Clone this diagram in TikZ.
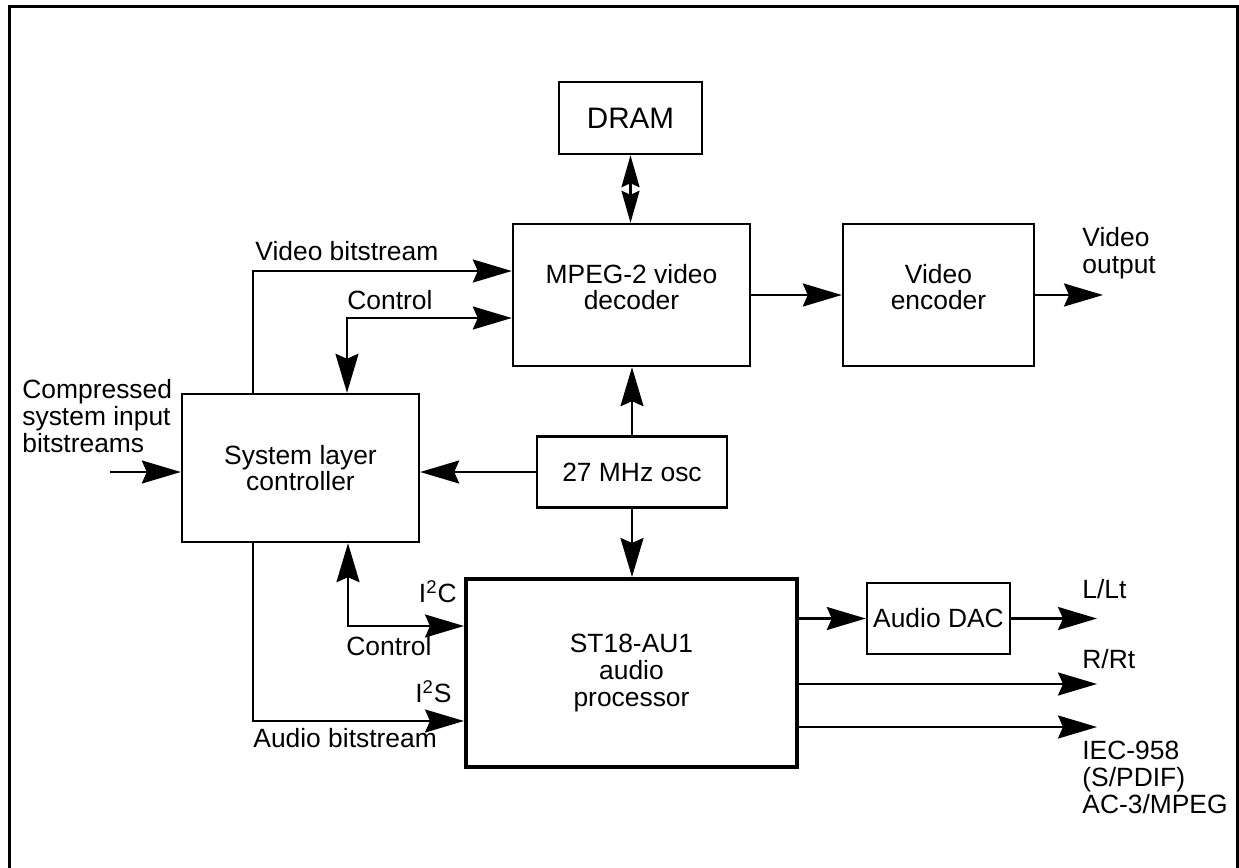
\documentclass[tikz,border=0pt]{standalone}
\usepackage{fontspec}
\setmainfont{Liberation Sans}
\usetikzlibrary{arrows.meta, positioning}
\newlength\pxu
\setlength\pxu{0.5pt}
\tikzset{
  blk/.style 2 args = {draw, line width=1.2pt, minimum width=#1*\pxu,
      minimum height=#2*\pxu, inner sep=0pt, align=center},
  lbl/.style = {inner sep=0pt, align=left},
  >={Stealth[length=19.5pt, width=11.5pt, inset=2.5pt]},
  sig/.style = {line width=1.2pt, ->},
  bisig/.style = {line width=1.2pt, <->},
  smallbisig/.style = {line width=1.2pt,
      {Stealth[length=16pt, width=9pt, inset=2pt]}-{Stealth[length=16pt, width=9pt, inset=2pt]}},
}

\begin{document}
\begin{tikzpicture}[x=0.5pt, y=-0.5pt, font=\fontsize{13.2pt}{13.3pt}\selectfont]
  \useasboundingbox (0,0) rectangle (1239,868);
  \draw[line width=1.5pt] (9,868) -- (9,6) -- (1237,6) -- (1237,868);

  % blocks
  \node[blk={143}{72}, font=\fontsize{14.8pt}{15pt}\selectfont] (dram) at (630.5,118) {DRAM};
  \node[blk={237}{142}, text depth=8pt] (mpeg) at (631.5,295) {MPEG-2 video\\decoder};
  \node[blk={191}{142}, text depth=8pt] (enc) at (938.5,295) {Video\\encoder};
  \node[blk={237}{148}] (sys) at (300.5,468) {System layer\\controller};
  \node[blk={190}{71}] (osc) at (632,472) {27 MHz osc};
  \node[blk={331}{188}, line width=2pt] (st) at (631.5,673) {ST18-AU1\\audio\\processor};
  \node[blk={143}{71}] (dac) at (938.5,618.5) {Audio DAC};

  \coordinate (vb) at (253,271);
  \coordinate (vc) at (347,318);
  \coordinate (cin) at (110,472);
  \coordinate (ac) at (348,626);
  \coordinate (ab) at (253,721);
  \coordinate (vout) at (1103,295);
  \coordinate (lout) at (1097,618.5);
  \coordinate (rout) at (1097,684);
  \coordinate (iout) at (1097,727);

  % connectors
  \draw[smallbisig] (dram.south) -- (dram.south |- mpeg.north);
  \draw[sig] (mpeg.east) -- (enc.west);
  \draw[sig] (enc) -- (vout);
  \draw[sig] (vb |- sys.north) -- (vb) -- (vb -| mpeg.west);
  \draw[bisig] (vc |- sys.north) -- (vc) -- (vc -| mpeg.west);
  \draw[sig] (cin) -- (cin -| sys.west);
  \draw[sig] (osc.west) -- (osc.west -| sys.east);
  \draw[sig] (osc.north) -- (osc.north |- mpeg.south);
  \draw[sig] (osc.south) -- (osc.south |- st.north);
  \draw[bisig] (ac |- sys.south) -- (ac) -- (ac -| st.west);
  \draw[sig] (ab |- sys.south) -- (ab) -- (ab -| st.west);
  \draw[sig] (st.east |- dac.west) -- (dac.west);
  \draw[sig] (dac) -- (lout);
  \draw[sig] (rout -| st.east) -- (rout);
  \draw[sig] (iout -| st.east) -- (iout);

  % labels
  \node[lbl, anchor=base west] (lvb) at (255,260) {Video bitstream};
  \node[lbl, anchor=base west] (lvc) at (347,309) {Control};
  \node[lbl, anchor=base west] (lin) at (22,452) {Compressed\\system input\\bitstreams};
  \node[lbl, anchor=base east] (li2c) at (457,602) {I\textsuperscript{2}C};
  \node[lbl, anchor=base west] (lac) at (346,655) {Control};
  \node[lbl, anchor=base east] (li2s) at (452,702) {I\textsuperscript{2}S};
  \node[lbl, anchor=base west] (lab) at (253,747) {Audio bitstream};
  \node[lbl, anchor=base west] (lvout) at (1082,273) {Video\\output};
  \node[lbl, anchor=base west] (llout) at (1082,598) {L/Lt};
  \node[lbl, anchor=base west] (lrout) at (1082,668) {R/Rt};
  \node[lbl, anchor=base west] (liout) at (1082,813) {IEC-958\\(S/PDIF)\\AC-3/MPEG};
\end{tikzpicture}
\end{document}
